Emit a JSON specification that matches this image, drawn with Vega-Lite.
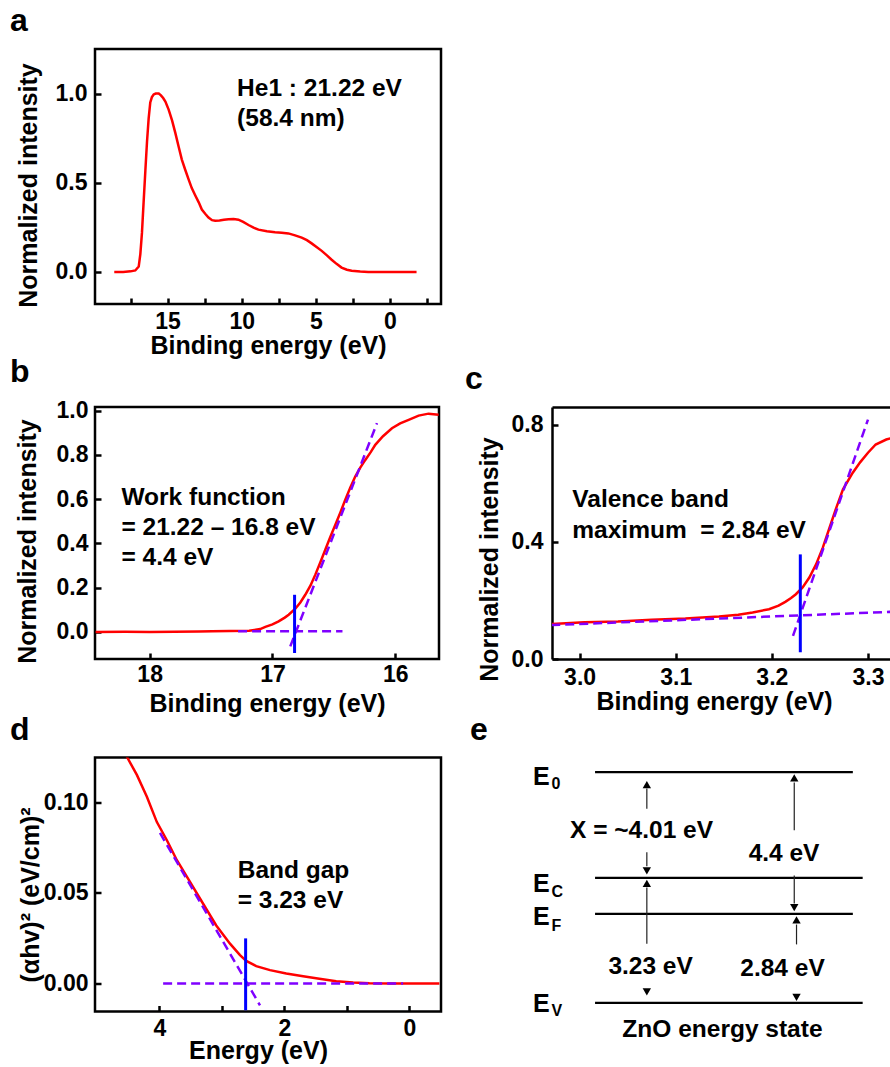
{
  "$schema": "https://vega.github.io/schema/vega-lite/v6.json",
  "padding": {"left": 8, "top": 3, "right": 0, "bottom": 0},
  "background": "white",
  "spacing": -6,
  "config": {
    "font": "Liberation Sans",
    "view": {"stroke": "black", "strokeWidth": 2.5},
    "axis": {
      "labelFont": "Liberation Sans", "labelFontSize": 23, "labelFontWeight": "bold", "labelColor": "black",
      "titleFont": "Liberation Sans", "titleFontSize": 25, "titleFontWeight": "bold", "titleColor": "black",
      "tickColor": "black", "tickWidth": 2.5, "tickSize": 6, "offset": -6,
      "domain": false, "domainColor": "black", "domainWidth": 2.5,
      "grid": false, "labelOverlap": false, "labelFlush": false
    },
    "title": {"font": "Liberation Sans", "fontSize": 32, "fontWeight": "bold", "color": "black", "anchor": "start", "frame": "group", "offset": 11},
    "text": {"font": "Liberation Sans", "fontWeight": "bold", "color": "black"}
  },
  "datasets": {
    "a_curve": [
      {"energy": 18.6, "intensity": 0}, {"energy": 18.0, "intensity": 0}, {"energy": 17.5, "intensity": 0.003},
      {"energy": 17.18, "intensity": 0.008}, {"energy": 16.95, "intensity": 0.03}, {"energy": 16.84, "intensity": 0.1},
      {"energy": 16.73, "intensity": 0.22}, {"energy": 16.62, "intensity": 0.39}, {"energy": 16.5, "intensity": 0.57},
      {"energy": 16.39, "intensity": 0.73}, {"energy": 16.28, "intensity": 0.86}, {"energy": 16.17, "intensity": 0.95},
      {"energy": 16.06, "intensity": 0.98}, {"energy": 15.94, "intensity": 0.995}, {"energy": 15.8, "intensity": 1.0},
      {"energy": 15.6, "intensity": 1.0}, {"energy": 15.45, "intensity": 0.99}, {"energy": 15.3, "intensity": 0.975},
      {"energy": 15.15, "intensity": 0.955}, {"energy": 14.93, "intensity": 0.91}, {"energy": 14.7, "intensity": 0.85},
      {"energy": 14.48, "intensity": 0.78}, {"energy": 14.25, "intensity": 0.7}, {"energy": 14.04, "intensity": 0.63},
      {"energy": 13.8, "intensity": 0.57}, {"energy": 13.59, "intensity": 0.52}, {"energy": 13.37, "intensity": 0.47},
      {"energy": 13.14, "intensity": 0.43}, {"energy": 12.9, "intensity": 0.39}, {"energy": 12.69, "intensity": 0.35},
      {"energy": 12.45, "intensity": 0.325}, {"energy": 12.24, "intensity": 0.305}, {"energy": 12.0, "intensity": 0.29},
      {"energy": 11.79, "intensity": 0.287}, {"energy": 11.5, "intensity": 0.288}, {"energy": 11.2, "intensity": 0.292},
      {"energy": 10.89, "intensity": 0.295}, {"energy": 10.55, "intensity": 0.296}, {"energy": 10.22, "intensity": 0.293},
      {"energy": 9.9, "intensity": 0.28}, {"energy": 9.54, "intensity": 0.263}, {"energy": 9.2, "intensity": 0.248},
      {"energy": 8.87, "intensity": 0.237}, {"energy": 8.3, "intensity": 0.228}, {"energy": 7.75, "intensity": 0.222},
      {"energy": 7.3, "intensity": 0.22}, {"energy": 6.85, "intensity": 0.216}, {"energy": 6.4, "intensity": 0.205},
      {"energy": 5.95, "intensity": 0.192}, {"energy": 5.6, "intensity": 0.178}, {"energy": 5.28, "intensity": 0.16},
      {"energy": 4.95, "intensity": 0.14}, {"energy": 4.6, "intensity": 0.118}, {"energy": 4.25, "intensity": 0.093},
      {"energy": 3.93, "intensity": 0.068}, {"energy": 3.6, "intensity": 0.045}, {"energy": 3.26, "intensity": 0.024},
      {"energy": 2.9, "intensity": 0.012}, {"energy": 2.58, "intensity": 0.006}, {"energy": 2.0, "intensity": 0.002},
      {"energy": 1.46, "intensity": 0}, {"energy": 0, "intensity": 0}, {"energy": -1.8, "intensity": 0}
    ],
    "a_text": [
      {"label": "He1 : 21.22 eV", "energy": 10.31, "intensity": 0.985},
      {"label": "(58.4 nm)", "energy": 10.31, "intensity": 0.817}
    ],
    "b_curve": [
      {"energy": 18.44, "intensity": 0}, {"energy": 18.2, "intensity": 0.001}, {"energy": 18.0, "intensity": 0},
      {"energy": 17.8, "intensity": 0.001}, {"energy": 17.6, "intensity": 0.002}, {"energy": 17.49, "intensity": 0.003},
      {"energy": 17.35, "intensity": 0.004}, {"energy": 17.19, "intensity": 0.006}, {"energy": 17.1, "intensity": 0.013},
      {"energy": 17.058, "intensity": 0.023}, {"energy": 17.0, "intensity": 0.034}, {"energy": 16.95, "intensity": 0.048},
      {"energy": 16.9, "intensity": 0.065}, {"energy": 16.868, "intensity": 0.078}, {"energy": 16.814, "intensity": 0.105},
      {"energy": 16.773, "intensity": 0.133}, {"energy": 16.733, "intensity": 0.168}, {"energy": 16.69, "intensity": 0.21},
      {"energy": 16.651, "intensity": 0.259}, {"energy": 16.61, "intensity": 0.315}, {"energy": 16.57, "intensity": 0.371},
      {"energy": 16.53, "intensity": 0.428}, {"energy": 16.488, "intensity": 0.484}, {"energy": 16.447, "intensity": 0.54},
      {"energy": 16.407, "intensity": 0.597}, {"energy": 16.366, "intensity": 0.652}, {"energy": 16.326, "intensity": 0.702},
      {"energy": 16.285, "intensity": 0.742}, {"energy": 16.244, "intensity": 0.777}, {"energy": 16.2, "intensity": 0.812},
      {"energy": 16.163, "intensity": 0.845}, {"energy": 16.1, "intensity": 0.884}, {"energy": 16.027, "intensity": 0.92},
      {"energy": 15.96, "intensity": 0.942}, {"energy": 15.891, "intensity": 0.958}, {"energy": 15.81, "intensity": 0.977},
      {"energy": 15.729, "intensity": 0.986}, {"energy": 15.647, "intensity": 0.981}
    ],
    "b_fit": [
      {"seg": "tangent", "energy": 16.855, "intensity": -0.065}, {"seg": "tangent", "energy": 16.149, "intensity": 0.943},
      {"seg": "base", "energy": 17.28, "intensity": 0.003}, {"seg": "base", "energy": 16.43, "intensity": 0.003}
    ],
    "b_mark": [{"energy": 16.82, "lo": -0.095, "hi": 0.168}],
    "b_text": [
      {"label": "Work function", "energy": 18.23, "intensity": 0.575},
      {"label": "= 21.22 – 16.8 eV", "energy": 18.23, "intensity": 0.436},
      {"label": "= 4.4 eV", "energy": 18.23, "intensity": 0.301}
    ],
    "c_curve": [
      {"energy": 2.965, "intensity": 0.118}, {"energy": 2.9705, "intensity": 0.119}, {"energy": 3.005, "intensity": 0.125},
      {"energy": 3.04, "intensity": 0.128}, {"energy": 3.075, "intensity": 0.134}, {"energy": 3.11, "intensity": 0.138},
      {"energy": 3.145, "intensity": 0.145}, {"energy": 3.165, "intensity": 0.151}, {"energy": 3.18, "intensity": 0.159},
      {"energy": 3.197, "intensity": 0.17}, {"energy": 3.207, "intensity": 0.182}, {"energy": 3.214, "intensity": 0.195},
      {"energy": 3.22, "intensity": 0.208}, {"energy": 3.225, "intensity": 0.221}, {"energy": 3.232, "intensity": 0.244},
      {"energy": 3.239, "intensity": 0.278}, {"energy": 3.246, "intensity": 0.323}, {"energy": 3.253, "intensity": 0.38},
      {"energy": 3.26, "intensity": 0.448}, {"energy": 3.267, "intensity": 0.516}, {"energy": 3.274, "intensity": 0.579},
      {"energy": 3.284, "intensity": 0.635}, {"energy": 3.292, "intensity": 0.672}, {"energy": 3.3, "intensity": 0.704},
      {"energy": 3.308, "intensity": 0.732}, {"energy": 3.319, "intensity": 0.749}, {"energy": 3.326, "intensity": 0.755}
    ],
    "c_fit": [
      {"seg": "base", "energy": 2.9705, "intensity": 0.1157}, {"seg": "base", "energy": 3.3243, "intensity": 0.161},
      {"seg": "tangent", "energy": 3.222, "intensity": 0.079}, {"seg": "tangent", "energy": 3.3, "intensity": 0.817}
    ],
    "c_mark": [{"energy": 3.2296, "lo": 0.023, "hi": 0.357}],
    "c_text": [
      {"label": "Valence band", "energy": 2.9924, "intensity": 0.5185},
      {"label": "maximum\u00a0 = 2.84 eV", "energy": 2.9924, "intensity": 0.414}
    ],
    "d_curve": [
      {"energy": 4.6, "ahv2": 0.131}, {"energy": 4.52, "ahv2": 0.125}, {"energy": 4.36, "ahv2": 0.115},
      {"energy": 4.2, "ahv2": 0.103}, {"energy": 4.04, "ahv2": 0.089}, {"energy": 3.88, "ahv2": 0.079},
      {"energy": 3.72, "ahv2": 0.068}, {"energy": 3.51, "ahv2": 0.056}, {"energy": 3.3, "ahv2": 0.044},
      {"energy": 3.09, "ahv2": 0.032}, {"energy": 2.87, "ahv2": 0.022}, {"energy": 2.71, "ahv2": 0.0157},
      {"energy": 2.61, "ahv2": 0.0125}, {"energy": 2.45, "ahv2": 0.0096}, {"energy": 2.23, "ahv2": 0.0074},
      {"energy": 1.97, "ahv2": 0.0055}, {"energy": 1.7, "ahv2": 0.004}, {"energy": 1.44, "ahv2": 0.0026},
      {"energy": 1.17, "ahv2": 0.0013}, {"energy": 0.9, "ahv2": 0.0006}, {"energy": 0.64, "ahv2": 0.0002},
      {"energy": 0.3, "ahv2": 0}, {"energy": -0.48, "ahv2": 0}
    ],
    "d_fit": [
      {"seg": "tangent", "energy": 3.99, "ahv2": 0.083}, {"seg": "tangent", "energy": 2.39, "ahv2": -0.012},
      {"seg": "base", "energy": 3.94, "ahv2": 0}, {"seg": "base", "energy": 0.1, "ahv2": 0}
    ],
    "d_mark": [{"energy": 2.62, "lo": -0.0147, "hi": 0.0249}],
    "d_text": [
      {"label": "Band gap", "energy": 2.747, "ahv2": 0.0581},
      {"label": "= 3.23 eV", "energy": 2.747, "ahv2": 0.0418}
    ],
    "e_levels": [
      {"name": "E0", "x1": 22.5, "x2": 90.7, "level": 94.9},
      {"name": "EC", "x1": 22.5, "x2": 93.3, "level": 58.2},
      {"name": "EF", "x1": 22.5, "x2": 90.7, "level": 45.7},
      {"name": "EV", "x1": 22.5, "x2": 93.3, "level": 14.8}
    ],
    "e_stems": [
      {"x": 36.2, "y1": 82.2, "y2": 89.2}, {"x": 36.2, "y1": 67.1, "y2": 62.2}, {"x": 36.2, "y1": 35.3, "y2": 54.9},
      {"x": 75.2, "y1": 74.7, "y2": 91.3}, {"x": 75.2, "y1": 59.0, "y2": 49.3}, {"x": 75.8, "y1": 35.1, "y2": 42.0}
    ],
    "e_heads": [
      {"x": 36.2, "y": 90.6, "dir": "up"}, {"x": 36.2, "y": 60.6, "dir": "down"}, {"x": 36.2, "y": 56.3, "dir": "up"},
      {"x": 36.2, "y": 18.6, "dir": "down"}, {"x": 75.2, "y": 92.9, "dir": "up"}, {"x": 75.2, "y": 47.9, "dir": "down"},
      {"x": 75.8, "y": 43.6, "dir": "up"}, {"x": 75.8, "y": 16.7, "dir": "down"}
    ],
    "e_text": [
      {"label": "X = ~4.01 eV", "x": 34.8, "y": 72.1}, {"label": "4.4 eV", "x": 72.5, "y": 64.0},
      {"label": "3.23 eV", "x": 37.2, "y": 24.9}, {"label": "2.84 eV", "x": 72.1, "y": 24.3},
      {"label": "ZnO energy state", "x": 56.2, "y": 2.9}
    ],
    "e_elab": [
      {"label": "E", "x": 6.1, "y": 90.3}, {"label": "E", "x": 6.1, "y": 53.2},
      {"label": "E", "x": 6.1, "y": 41.7}, {"label": "E", "x": 6.1, "y": 11.6}
    ],
    "e_sub": [
      {"label": "0", "x": 11.0, "y": 89.1}, {"label": "C", "x": 11.0, "y": 51.5},
      {"label": "F", "x": 11.0, "y": 39.9}, {"label": "V", "x": 11.0, "y": 10.1}
    ]
  },
  "vconcat": [
    {
      "width": 346, "height": 255,
      "title": {"text": "a", "dx": -85},
      "resolve": {"axis": {"x": "independent", "y": "independent"}},
      "layer": [
        {
          "data": {"name": "a_curve"},
          "mark": {"type": "line", "color": "#FF0000", "strokeWidth": 2.5, "clip": true},
          "encoding": {
            "x": {"field": "energy", "type": "quantitative", "scale": {"domain": [19.9, -3.45], "nice": false, "zero": false},
              "axis": {"title": "Binding energy (eV)", "values": [17.5, 15, 12.5, 10, 7.5, 5, 2.5, 0, -2.5], "format": "d",
                "labelExpr": "datum.value % 5 == 0 ? datum.label : ''", "labelPadding": 6.2, "titlePadding": 0}},
            "y": {"field": "intensity", "type": "quantitative", "scale": {"domain": [-0.18, 1.25], "nice": false, "zero": false},
              "axis": {"title": "Normalized intensity", "values": [0, 0.5, 1], "format": ".1f", "labelPadding": 8, "titlePadding": 14, "titleY": 136}}
          }
        },
        {
          "data": {"name": "a_text"},
          "mark": {"type": "text", "align": "left", "baseline": "alphabetic", "fontSize": 24.5},
          "encoding": {
            "x": {"field": "energy", "type": "quantitative", "scale": {"domain": [19.9, -3.45], "nice": false, "zero": false}, "axis": null},
            "y": {"field": "intensity", "type": "quantitative", "scale": {"domain": [-0.18, 1.25], "nice": false, "zero": false}, "axis": null},
            "text": {"field": "label"}
          }
        }
      ]
    },
    {
      "spacing": -6.5,
      "vconcat": [
        {
          "spacing": 24,
          "hconcat": [
            {
              "width": 344, "height": 252,
              "title": {"text": "b", "dx": -85},
              "resolve": {"axis": {"x": "independent", "y": "independent"}},
              "layer": [
                {
                  "data": {"name": "b_curve"},
                  "mark": {"type": "line", "color": "#FF0000", "strokeWidth": 2.5, "clip": true},
                  "encoding": {
                    "x": {"field": "energy", "type": "quantitative", "scale": {"domain": [18.445, 15.644], "nice": false, "zero": false},
                      "axis": {"title": "Binding energy (eV)", "values": [18, 17.5, 17, 16.5, 16], "format": "d",
                        "labelExpr": "datum.value % 1 == 0 ? datum.label : ''", "labelPadding": 4.5, "titlePadding": 5}},
                    "y": {"field": "intensity", "type": "quantitative", "scale": {"domain": [-0.122, 1.016], "nice": false, "zero": false},
                      "axis": {"title": "Normalized intensity", "values": [0, 0.2, 0.4, 0.6, 0.8, 1.0], "format": ".1f", "labelPadding": 7, "titlePadding": 15.6, "titleY": 134}}
                  }
                },
                {
                  "data": {"name": "b_fit"},
                  "mark": {"type": "line", "color": "#7F00FF", "strokeWidth": 2.5, "strokeDash": [9, 5], "clip": true},
                  "encoding": {
                    "x": {"field": "energy", "type": "quantitative", "scale": {"domain": [18.445, 15.644], "nice": false, "zero": false}, "axis": null},
                    "y": {"field": "intensity", "type": "quantitative", "scale": {"domain": [-0.122, 1.016], "nice": false, "zero": false}, "axis": null},
                    "detail": {"field": "seg"}
                  }
                },
                {
                  "data": {"name": "b_mark"},
                  "mark": {"type": "rule", "color": "#0000FF", "strokeWidth": 3},
                  "encoding": {
                    "x": {"field": "energy", "type": "quantitative", "scale": {"domain": [18.445, 15.644], "nice": false, "zero": false}, "axis": null},
                    "y": {"field": "lo", "type": "quantitative", "scale": {"domain": [-0.122, 1.016], "nice": false, "zero": false}, "axis": null},
                    "y2": {"field": "hi"}
                  }
                },
                {
                  "data": {"name": "b_text"},
                  "mark": {"type": "text", "align": "left", "baseline": "alphabetic", "fontSize": 24.5},
                  "encoding": {
                    "x": {"field": "energy", "type": "quantitative", "scale": {"domain": [18.445, 15.644], "nice": false, "zero": false}, "axis": null},
                    "y": {"field": "intensity", "type": "quantitative", "scale": {"domain": [-0.122, 1.016], "nice": false, "zero": false}, "axis": null},
                    "text": {"field": "label"}
                  }
                }
              ]
            },
            {
              "width": 338, "height": 252,
              "view": {"stroke": null},
              "title": {"text": "c", "dx": -87},
              "resolve": {"axis": {"x": "independent", "y": "independent"}},
              "layer": [
                {
                  "data": {"name": "c_curve"},
                  "mark": {"type": "line", "color": "#FF0000", "strokeWidth": 2.5, "clip": true},
                  "encoding": {
                    "x": {"field": "energy", "type": "quantitative", "scale": {"domain": [2.9713, 3.3229], "nice": false, "zero": false},
                      "axis": {"orient": "bottom", "title": "Binding energy (eV)", "values": [3.0, 3.1, 3.2, 3.3], "format": ".1f",
                        "labelPadding": 7, "titlePadding": 0.5, "titleX": 162}},
                    "y": {"field": "intensity", "type": "quantitative", "scale": {"domain": [0, 0.86], "nice": false, "zero": false},
                      "axis": {"orient": "left", "title": "Normalized intensity", "values": [0, 0.4, 0.8], "format": ".1f", "labelPadding": 9, "titlePadding": 9, "titleY": 152}}
                  }
                },
                {
                  "data": {"name": "c_fit"},
                  "mark": {"type": "line", "color": "#7F00FF", "strokeWidth": 2.5, "strokeDash": [9, 5], "clip": true},
                  "encoding": {
                    "x": {"field": "energy", "type": "quantitative", "scale": {"domain": [2.9713, 3.3229], "nice": false, "zero": false},
                      "axis": {"orient": "top", "offset": 0, "labels": false, "ticks": false, "title": null, "domain": true}},
                    "y": {"field": "intensity", "type": "quantitative", "scale": {"domain": [0, 0.86], "nice": false, "zero": false}, "axis": null},
                    "detail": {"field": "seg"}
                  }
                },
                {
                  "data": {"name": "c_mark"},
                  "mark": {"type": "rule", "color": "#0000FF", "strokeWidth": 3},
                  "encoding": {
                    "x": {"field": "energy", "type": "quantitative", "scale": {"domain": [2.9713, 3.3229], "nice": false, "zero": false},
                      "axis": {"orient": "bottom", "offset": 0, "labels": false, "ticks": false, "title": null, "domain": true}},
                    "y": {"field": "lo", "type": "quantitative", "scale": {"domain": [0, 0.86], "nice": false, "zero": false},
                      "axis": {"orient": "left", "offset": 0, "labels": false, "ticks": false, "title": null, "domain": true}},
                    "y2": {"field": "hi"}
                  }
                },
                {
                  "data": {"name": "c_text"},
                  "mark": {"type": "text", "align": "left", "baseline": "alphabetic", "fontSize": 24.5},
                  "encoding": {
                    "x": {"field": "energy", "type": "quantitative", "scale": {"domain": [2.9713, 3.3229], "nice": false, "zero": false}, "axis": null},
                    "y": {"field": "intensity", "type": "quantitative", "scale": {"domain": [0, 0.86], "nice": false, "zero": false}, "axis": null},
                    "text": {"field": "label"}
                  }
                }
              ]
            }
          ]
        },
        {
          "spacing": 27,
          "hconcat": [
            {
              "width": 346, "height": 254,
              "title": {"text": "d", "dx": -85},
              "resolve": {"axis": {"x": "independent", "y": "independent"}},
              "layer": [
                {
                  "data": {"name": "d_curve"},
                  "mark": {"type": "line", "color": "#FF0000", "strokeWidth": 2.5, "clip": true},
                  "encoding": {
                    "x": {"field": "energy", "type": "quantitative", "scale": {"domain": [5.03, -0.506], "nice": false, "zero": false},
                      "axis": {"title": "Energy (eV)", "values": [4, 3, 2, 1, 0], "format": "d",
                        "labelExpr": "datum.value % 2 == 0 ? datum.label : ''", "labelPadding": 6.2, "titlePadding": -2, "titleX": 163}},
                    "y": {"field": "ahv2", "type": "quantitative", "scale": {"domain": [-0.0154, 0.1246], "nice": false, "zero": false},
                      "axis": {"title": "(αhv)² (eV/cm)²", "values": [0, 0.05, 0.1], "format": ".2f", "labelPadding": 7, "titlePadding": 0, "titleY": 137}}
                  }
                },
                {
                  "data": {"name": "d_fit"},
                  "mark": {"type": "line", "color": "#7F00FF", "strokeWidth": 2.5, "strokeDash": [9, 5], "clip": true},
                  "encoding": {
                    "x": {"field": "energy", "type": "quantitative", "scale": {"domain": [5.03, -0.506], "nice": false, "zero": false}, "axis": null},
                    "y": {"field": "ahv2", "type": "quantitative", "scale": {"domain": [-0.0154, 0.1246], "nice": false, "zero": false}, "axis": null},
                    "detail": {"field": "seg"}
                  }
                },
                {
                  "data": {"name": "d_mark"},
                  "mark": {"type": "rule", "color": "#0000FF", "strokeWidth": 3},
                  "encoding": {
                    "x": {"field": "energy", "type": "quantitative", "scale": {"domain": [5.03, -0.506], "nice": false, "zero": false}, "axis": null},
                    "y": {"field": "lo", "type": "quantitative", "scale": {"domain": [-0.0154, 0.1246], "nice": false, "zero": false}, "axis": null},
                    "y2": {"field": "hi"}
                  }
                },
                {
                  "data": {"name": "d_text"},
                  "mark": {"type": "text", "align": "left", "baseline": "alphabetic", "fontSize": 24.5},
                  "encoding": {
                    "x": {"field": "energy", "type": "quantitative", "scale": {"domain": [5.03, -0.506], "nice": false, "zero": false}, "axis": null},
                    "y": {"field": "ahv2", "type": "quantitative", "scale": {"domain": [-0.0154, 0.1246], "nice": false, "zero": false}, "axis": null},
                    "text": {"field": "label"}
                  }
                }
              ]
            },
            {
              "width": 378, "height": 288,
              "view": {"stroke": null},
              "title": {"text": "e", "dx": -40},
              "layer": [
                {
                  "data": {"name": "e_levels"},
                  "mark": {"type": "rule", "color": "black", "strokeWidth": 2.2},
                  "encoding": {
                    "x": {"field": "x1", "type": "quantitative", "scale": {"domain": [0, 100], "nice": false, "zero": false}, "axis": null},
                    "x2": {"field": "x2"},
                    "y": {"field": "level", "type": "quantitative", "scale": {"domain": [0, 100], "nice": false, "zero": false}, "axis": null}
                  }
                },
                {
                  "data": {"name": "e_stems"},
                  "mark": {"type": "rule", "color": "#222222", "strokeWidth": 1.2},
                  "encoding": {
                    "x": {"field": "x", "type": "quantitative", "scale": {"domain": [0, 100], "nice": false, "zero": false}, "axis": null},
                    "y": {"field": "y1", "type": "quantitative", "scale": {"domain": [0, 100], "nice": false, "zero": false}, "axis": null},
                    "y2": {"field": "y2"}
                  }
                },
                {
                  "data": {"name": "e_heads"},
                  "mark": {"type": "point", "filled": true, "color": "black", "size": 70, "opacity": 1},
                  "encoding": {
                    "x": {"field": "x", "type": "quantitative", "scale": {"domain": [0, 100], "nice": false, "zero": false}, "axis": null},
                    "y": {"field": "y", "type": "quantitative", "scale": {"domain": [0, 100], "nice": false, "zero": false}, "axis": null},
                    "shape": {"field": "dir", "type": "nominal", "scale": {"domain": ["up", "down"], "range": ["triangle-up", "triangle-down"]}, "legend": null}
                  }
                },
                {
                  "data": {"name": "e_text"},
                  "mark": {"type": "text", "align": "center", "baseline": "alphabetic", "fontSize": 24.5},
                  "encoding": {
                    "x": {"field": "x", "type": "quantitative", "scale": {"domain": [0, 100], "nice": false, "zero": false}, "axis": null},
                    "y": {"field": "y", "type": "quantitative", "scale": {"domain": [0, 100], "nice": false, "zero": false}, "axis": null},
                    "text": {"field": "label"}
                  }
                },
                {
                  "data": {"name": "e_elab"},
                  "mark": {"type": "text", "align": "left", "baseline": "alphabetic", "fontSize": 25},
                  "encoding": {
                    "x": {"field": "x", "type": "quantitative", "scale": {"domain": [0, 100], "nice": false, "zero": false}, "axis": null},
                    "y": {"field": "y", "type": "quantitative", "scale": {"domain": [0, 100], "nice": false, "zero": false}, "axis": null},
                    "text": {"field": "label"}
                  }
                },
                {
                  "data": {"name": "e_sub"},
                  "mark": {"type": "text", "align": "left", "baseline": "alphabetic", "fontSize": 16},
                  "encoding": {
                    "x": {"field": "x", "type": "quantitative", "scale": {"domain": [0, 100], "nice": false, "zero": false}, "axis": null},
                    "y": {"field": "y", "type": "quantitative", "scale": {"domain": [0, 100], "nice": false, "zero": false}, "axis": null},
                    "text": {"field": "label"}
                  }
                }
              ]
            }
          ]
        }
      ]
    }
  ]
}
